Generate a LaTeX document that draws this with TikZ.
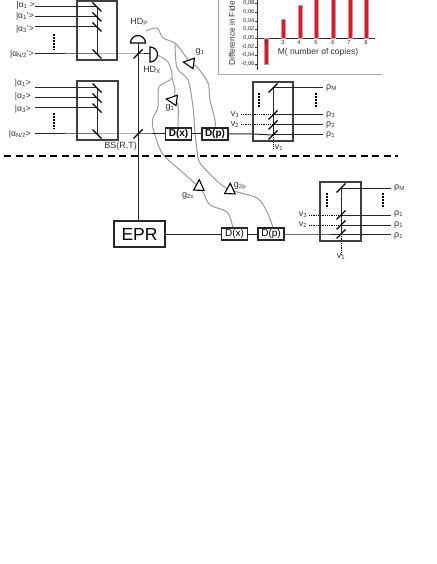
\documentclass[tikz,border=0pt]{standalone}
\usepackage{amsmath,amssymb}
\usepackage{fontspec}
\setmainfont{Liberation Sans}
\usetikzlibrary{backgrounds,shapes.geometric}
\definecolor{wiregray}{HTML}{9A9A9A}
\definecolor{framegray}{HTML}{A8A8A8}
\definecolor{barred}{HTML}{F01020}
\tikzset{
  beam/.style={draw=black!85,line width=1pt},
  vac/.style={draw=black,line width=1pt,dash pattern=on 1pt off 0.8pt},
  wire/.style={draw=wiregray,line width=1pt},
  frame/.style={draw=black!75,line width=1.3pt},
  cut/.style={draw=black,line width=1.3pt,dash pattern=on 7pt off 4.5pt},
  % boxes
  dbox/.style={rectangle,draw=black!85,fill=white,line width=1.1pt,inner sep=0pt,
               minimum width=26pt,minimum height=12pt,font=\fontsize{10}{10}\selectfont},
  eprbox/.style={rectangle,draw=black!85,fill=white,line width=1.2pt,inner sep=0pt,
                 minimum width=51pt,minimum height=26pt,font=\fontsize{17.5}{17.5}\selectfont},
  amp/.style={isosceles triangle,isosceles triangle stretches,draw=black,fill=white,
              line width=1.1pt,inner sep=0pt,minimum width=10.5pt,minimum height=10.5pt},
  det/.style={inner sep=0pt,minimum size=2pt},
  lb/.style={inner sep=0pt,text=black!80,font=\fontsize{9}{9}\selectfont},
  ket/.style={inner sep=0pt,text=black!80,anchor=east,font=\fontsize{8.5}{8.5}\selectfont},
  tk/.style={inner sep=0pt,text=black!85,font=\fontsize{5.6}{5.6}\selectfont},
  thick dots/.style={draw=black,line width=2.8pt,dash pattern=on 1.8pt off 1.2pt},
  thin dots/.style={draw=black,line width=1.6pt,dash pattern=on 1.8pt off 1.2pt},
  bsdown/.pic={\draw[draw=black,line width=1.2pt] (-4.5,-4.5) -- (4.5,4.5);},
  bsup/.pic={\draw[draw=black,line width=1.2pt] (-4.5,4.5) -- (4.5,-4.5);},
  bar/.style={fill=barred,draw=framegray,line width=0.6pt},
}
\begin{document}
\begin{tikzpicture}[x=1pt,y=-1pt]
  \useasboundingbox (0,0) rectangle (436,564);
  % inset
  \draw[draw=framegray,line width=1pt] (218,0) -- (218,75) -- (382,75);
  \draw[draw=black!80,line width=0.7pt] (257,0) -- (257,70);
  \draw[draw=black!80,line width=0.7pt] (257,38) -- (375,38);
  \draw[draw=black!80,line width=0.6pt] (255,3) -- (257,3) (255,12) -- (257,12) (255,21) -- (257,21)
    (255,29) -- (257,29) (255,38) -- (257,38) (255,47) -- (257,47) (255,55) -- (257,55) (255,64) -- (257,64);
  \draw[bar] (264,38) rectangle (268,64);
  \draw[bar] (281,19.5) rectangle (285,38);
  \draw[bar] (298,5) rectangle (302,38);
  \draw[bar] (314,-1) rectangle (318,38);
  \draw[bar] (331,-1) rectangle (335,38);
  \draw[bar] (348,-1) rectangle (352,38);
  \draw[bar] (364,-1) rectangle (368,38);
  \node[tk,anchor=east] (t8) at (254.5,3) {0,08};
  \node[tk,anchor=east] (t6) at (254.5,12) {0,06};
  \node[tk,anchor=east] (t4) at (254.5,21) {0,04};
  \node[tk,anchor=east] (t2) at (254.5,29) {0,02};
  \node[tk,anchor=east] (t0) at (254.5,38) {0,00};
  \node[tk,anchor=east] (m2) at (254.5,47) {-0,02};
  \node[tk,anchor=east] (m4) at (254.5,55) {-0,04};
  \node[tk,anchor=east] (m6) at (254.5,64) {-0,06};
  \node[tk] (c2) at (266,43) {2};
  \node[tk] (c3) at (283,43) {3};
  \node[tk] (c4) at (299,43) {4};
  \node[tk] (c5) at (316,43) {5};
  \node[tk] (c6) at (333,43) {6};
  \node[tk] (c7) at (349,43) {7};
  \node[tk] (c8) at (366,43) {8};
  \node[lb,font=\fontsize{8.5}{8.5}\selectfont] (xtitle) at (318,52) {M( number of copies)};
  \node[lb,font=\fontsize{8.3}{8.3}\selectfont,rotate=90,anchor=west] (ytitle) at (232,66) {Difference in Fide};
  % upper input box
  \draw[frame] (77,1) rectangle (117,60);
  \node[ket] (a1) at (35,5) {|α\textsubscript{1} >};
  \node[ket] (a2) at (34,16) {|α\textsubscript{1}'>};
  \node[ket] (a3) at (34,29) {|α\textsubscript{3}'>};
  \node[ket] (aN) at (34,54) {|α\textsubscript{N/2}'>};
  \coordinate (s1) at (97,7);
  \coordinate (s2) at (97,17);
  \coordinate (s3) at (97,27);
  \coordinate (sN) at (97,54);
  \draw[beam] (35,7) -- (s1);
  \draw[beam] (35,17) -- (s2);
  \draw[beam] (35,27) -- (s3);
  \draw[beam] (s1) -- (sN);
  \pic at (s1) {bsdown};
  \pic at (s2) {bsdown};
  \pic at (s3) {bsdown};
  \pic at (sN) {bsdown};
  \draw[thick dots] (54,34) -- (54,50);
  % lower input box
  \draw[frame] (77,81) rectangle (118,140);
  \node[ket] (b1) at (31,83) {|α\textsubscript{1}>};
  \node[ket] (b2) at (31,96) {|α\textsubscript{2}>};
  \node[ket] (b3) at (31,109) {|α\textsubscript{3}>};
  \node[ket] (bN) at (31,134) {|α\textsubscript{N/2}>};
  \coordinate (r1) at (97,88);
  \coordinate (r2) at (97,98);
  \coordinate (r3) at (97,108);
  \coordinate (rN) at (97,134);
  \draw[beam] (35,88) -- (r1);
  \draw[beam] (35,98) -- (r2);
  \draw[beam] (35,108) -- (r3);
  \draw[beam] (r1) -- (rN);
  \pic at (r1) {bsdown};
  \pic at (r2) {bsdown};
  \pic at (r3) {bsdown};
  \pic at (rN) {bsdown};
  \draw[thick dots] (54,113) -- (54,129);
  % upper channel
  \node[eprbox] (epr) at (139.5,234) {EPR};
  \coordinate (hdpfoot) at (138,43);
  \coordinate (bsa) at (138,54);
  \coordinate (bsb) at (138,134);
  \coordinate (hdxfoot) at (150,54);
  \draw[fill=white,draw=black,line width=1.2pt] (130.5,43) arc[start angle=180,end angle=360,radius=7.5] -- cycle;
  \draw[fill=white,draw=black,line width=1.2pt] (150,47) arc[start angle=-90,end angle=90,radius=7.5] -- cycle;
  \node[det] (hdp) at (146,31) {};
  \node[det] (hdx) at (157,55) {};
  \draw[beam] (hdpfoot) -- (epr.north -| hdpfoot);
  \draw[beam] (35,54) -- (sN) -- (bsa) -- (hdxfoot);
  \pic at (bsa) {bsup};
  \pic at (bsb) {bsup};
  \node[dbox,font=\fontsize{10}{10}\bfseries\selectfont] (dxa) at (178.5,134) {D(x)};
  \node[dbox,font=\fontsize{10}{10}\bfseries\selectfont] (dpa) at (215,134) {D(p)};
  \draw[beam] (35,134) -- (rN) -- (bsb) -- (dxa);
  \draw[beam] (dxa) -- (dpa);
  \node[amp,rotate=172] (g1a) at (190.5,63) {};
  \node[amp,rotate=172] (g1b) at (173.5,100) {};
  \node[amp,rotate=88] (g2x) at (199,187) {};
  \node[amp,rotate=88] (g2p) at (230,190.5) {};
  \node[lb] (hdplb) at (139,22) {HD\textsubscript{P}};
  \node[lb] (hdxlb) at (152,70) {HD\textsubscript{X}};
  \node[lb] (g1alb) at (200,52) {g\textsubscript{1}};
  \node[lb] (g1blb) at (170,108) {g\textsubscript{1}};
  \node[lb] (g2xlb) at (188,196) {g\textsubscript{2x}};
  \node[lb] (g2plb) at (240,186) {g\textsubscript{2p}};
  \node[lb,anchor=east] (bslb) at (137,146) {BS(R,T)};
  % upper output box
  \draw[frame] (253,82) rectangle (293,141);
  \coordinate (ua) at (273,88);
  \coordinate (ub) at (273,115);
  \coordinate (uc) at (273,125);
  \coordinate (ud) at (273,135);
  \node[lb,anchor=west] (urM) at (326,88) {ρ\textsubscript{M}};
  \node[lb,anchor=west] (ur3) at (326,115) {ρ\textsubscript{3}};
  \node[lb,anchor=west] (ur2) at (326,125) {ρ\textsubscript{2}};
  \node[lb,anchor=west] (ur1) at (326,135) {ρ\textsubscript{1}};
  \node[lb] (uv3) at (235,115) {v\textsubscript{3}};
  \node[lb] (uv2) at (235,125) {v\textsubscript{2}};
  \node[lb] (uv1) at (279,148) {v\textsubscript{1}};
  \draw[beam] (ua) -- (ud);
  \draw[beam] (ua) -- (323,88);
  \draw[beam] (ub) -- (323,115);
  \draw[beam] (uc) -- (323,125);
  \draw[beam] (ud) -- (323,135);
  \draw[beam] (dpa) -- (253,134) -- (ud);
  \draw[vac] (uv3) ++(6,0) -- (ub);
  \draw[vac] (uv2) ++(6,0) -- (uc);
  \draw[vac] (ud) -- (273,149);
  \pic at (ua) {bsup};
  \pic at (ub) {bsup};
  \pic at (uc) {bsup};
  \pic at (ud) {bsup};
  \draw[thick dots] (259,93) -- (259,108);
  \draw[thin dots] (316,93) -- (316,108);
  % separator
  \draw[cut] (4,156) -- (398,156);
  % lower channel
  \node[dbox] (dxb) at (234.5,234) {D(x)};
  \node[dbox] (dpb) at (271,234) {D(p)};
  \draw[beam] (epr) -- (dxb);
  \draw[beam] (dxb) -- (dpb);
  \draw[frame] (320,182) rectangle (361,241);
  \coordinate (la) at (341,188);
  \coordinate (lb) at (341,215);
  \coordinate (lc) at (341,225);
  \coordinate (ld) at (341,234);
  \node[lb,anchor=west] (lrM) at (394,188) {ρ\textsubscript{M}};
  \node[lb,anchor=west] (lr3) at (394,214) {ρ\textsubscript{1}};
  \node[lb,anchor=west] (lr2) at (394,225) {ρ\textsubscript{1}};
  \node[lb,anchor=west] (lr1) at (394,236) {ρ\textsubscript{1}};
  \node[lb] (lv3) at (303,215) {v\textsubscript{3}};
  \node[lb] (lv2) at (303,225) {v\textsubscript{2}};
  \node[lb] (lv1) at (341,257) {v\textsubscript{1}};
  \draw[beam] (la) -- (ld);
  \draw[beam] (la) -- (391,188);
  \draw[beam] (lb) -- (391,215);
  \draw[beam] (lc) -- (391,225);
  \draw[beam] (ld) -- (391,234);
  \draw[beam] (dpb) -- (320,234) -- (ld);
  \draw[vac] (lv3) ++(6,0) -- (lb);
  \draw[vac] (lv2) ++(6,0) -- (lc);
  \draw[vac] (ld) -- (lv1);
  \pic at (la) {bsup};
  \pic at (lb) {bsup};
  \pic at (lc) {bsup};
  \pic at (ld) {bsup};
  \draw[thick dots] (327,193) -- (327,208);
  \draw[thick dots] (383,193) -- (383,208);
  \begin{scope}[on background layer]
  \draw[wire] plot[smooth,tension=0.5] coordinates {(hdp) (157,28) (163,38) (175,43) (183,53) (g1a)};
  \draw[wire] plot[smooth,tension=0.5] coordinates {(g1a) (197,67) (208,83) (210,100) (215,120) (dpa.north)};
  \draw[wire] plot[smooth,tension=0.5] coordinates {(175,43) (177,68) (188,80) (193,107) (195,133) (197,150) (200,163) (218,182) (g2p)};
  \draw[wire] plot[smooth,tension=0.5] coordinates {(g2p) (257,198) (267,212) (dpb.north -| 273,228)};
  \draw[wire] plot[smooth,tension=0.5] coordinates {(hdx) (168,62) (172,78) (159,87) (158,107) (153,118) (153,128) (162,153) (180,170) (g2x)};
  \draw[wire] plot[smooth,tension=0.5] coordinates {(g2x) (203,192) (210,205) (227,212) (dxb.north -| 233,228)};
  \draw[wire] plot[smooth,tension=0.5] coordinates {(172,78) (175,90) (g1b)};
  \draw[wire] plot[smooth,tension=0.5] coordinates {(g1b) (178,105) (dxa.north -| 178,128)};
  \end{scope}
\end{tikzpicture}
\end{document}
